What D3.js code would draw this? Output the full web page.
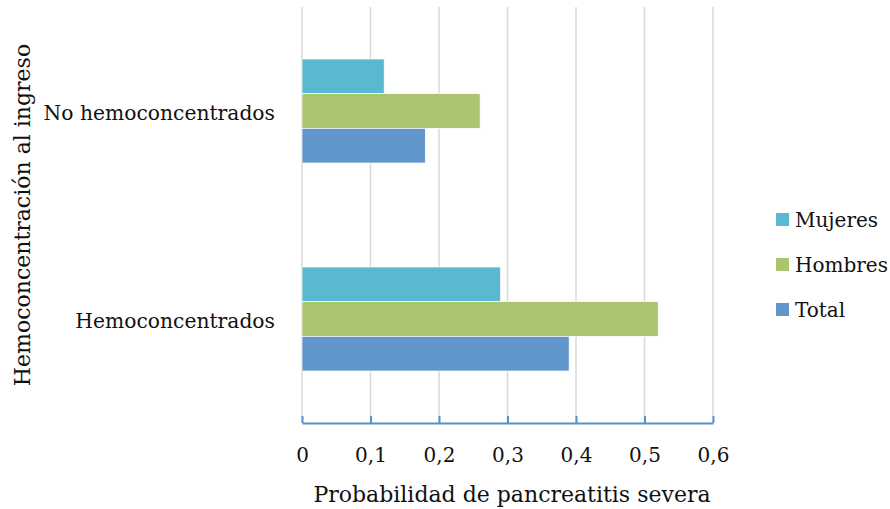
<!DOCTYPE html>
<html>
<head>
<meta charset="utf-8">
<script src="https://cdn.jsdelivr.net/npm/d3@7"></script>
<style>
  html, body { margin: 0; padding: 0; background: #fff; }
  svg { display: block; }
  text { font-family: "DejaVu Serif", "Liberation Serif", serif; fill: #111; }
</style>
</head>
<body>
<svg id="chart" width="890" height="509"></svg>
<script>
// Categories (top to bottom) and series
const categories = ["No hemoconcentrados", "Hemoconcentrados"];
const seriesNames = ["Mujeres", "Hombres", "Total"];
const mujeres = [0.12, 0.29];
const hombres = [0.26, 0.52];
const total   = [0.18, 0.39];
const xTicks = [0, 0.1, 0.2, 0.3, 0.4, 0.5, 0.6];
const xTickLabels = ["0", "0,1", "0,2", "0,3", "0,4", "0,5", "0,6"];
const colors = ["#5bb8d1", "#abc56e", "#6096cb"];

const seriesValues = [mujeres, hombres, total];
const FONT = "DejaVu Serif";

const svg = d3.select("#chart");
const plot = { left: 302, right: 713, top: 7, bottom: 423 };

const x = d3.scaleLinear().domain([0, 0.6]).range([plot.left, plot.right]);
const y = d3.scaleBand().domain(categories).range([plot.top, plot.bottom]).paddingInner(0.5).paddingOuter(0.25);
const yInner = d3.scaleBand().domain(seriesNames).range([0, y.bandwidth()]);

// vertical gridlines
svg.append("g")
  .selectAll("line")
  .data(xTicks)
  .join("line")
  .attr("x1", d => x(d)).attr("x2", d => x(d))
  .attr("y1", plot.top).attr("y2", plot.bottom)
  .attr("stroke", "#d9d9d9").attr("stroke-width", 1.5);

// bars
const groups = svg.append("g")
  .selectAll("g")
  .data(categories)
  .join("g")
  .attr("transform", d => `translate(0,${y(d)})`);

groups.selectAll("rect")
  .data((c, i) => seriesNames.map((s, j) => ({ s, v: seriesValues[j][i], color: colors[j] })))
  .join("rect")
  .attr("x", x(0))
  .attr("y", d => yInner(d.s))
  .attr("width", d => x(d.v) - x(0))
  .attr("height", yInner.bandwidth())
  .attr("fill", d => d.color)
  .attr("stroke", "#fff").attr("stroke-width", 0.7);

// x axis
const xAxis = d3.axisBottom(x)
  .tickValues(xTicks)
  .tickFormat((d, i) => xTickLabels[i])
  .tickSize(-7)
  .tickSizeOuter(0)
  .tickPadding(25);
const gx = svg.append("g").attr("transform", `translate(0,${plot.bottom})`).call(xAxis);
gx.select(".domain").attr("stroke", "#5b8fcb").attr("stroke-width", 2);
gx.selectAll(".tick line").attr("stroke", "#5b8fcb").attr("stroke-width", 2);
gx.selectAll(".tick text").style("font-size", "20px").style("font-family", FONT).attr("fill", "#111");

// category labels
const yAxis = d3.axisLeft(y).tickSize(0).tickPadding(27);
const gy = svg.append("g").attr("transform", `translate(${plot.left},2)`).call(yAxis);
gy.select(".domain").remove();
gy.selectAll(".tick text").style("font-size", "20.3px").style("font-family", FONT).attr("fill", "#111");

// axis titles
svg.append("text")
  .attr("x", 512)
  .attr("y", 502)
  .attr("text-anchor", "middle")
  .style("font-size", "22px")
  .text("Probabilidad de pancreatitis severa");

svg.append("text")
  .attr("transform", "translate(30,215) rotate(-90)")
  .attr("text-anchor", "middle")
  .style("font-size", "22px")
  .text("Hemoconcentración al ingreso");

// legend
const legend = svg.append("g")
  .selectAll("g")
  .data(seriesNames)
  .join("g")
  .attr("transform", (d, i) => `translate(776,${213 + i * 45})`);
legend.append("rect").attr("width", 13).attr("height", 13).attr("fill", (d, i) => colors[i]);
legend.append("text").attr("x", 19).attr("y", 6.5).attr("dy", "0.35em")
  .style("font-size", "20px").text(d => d);
</script>
</body>
</html>
